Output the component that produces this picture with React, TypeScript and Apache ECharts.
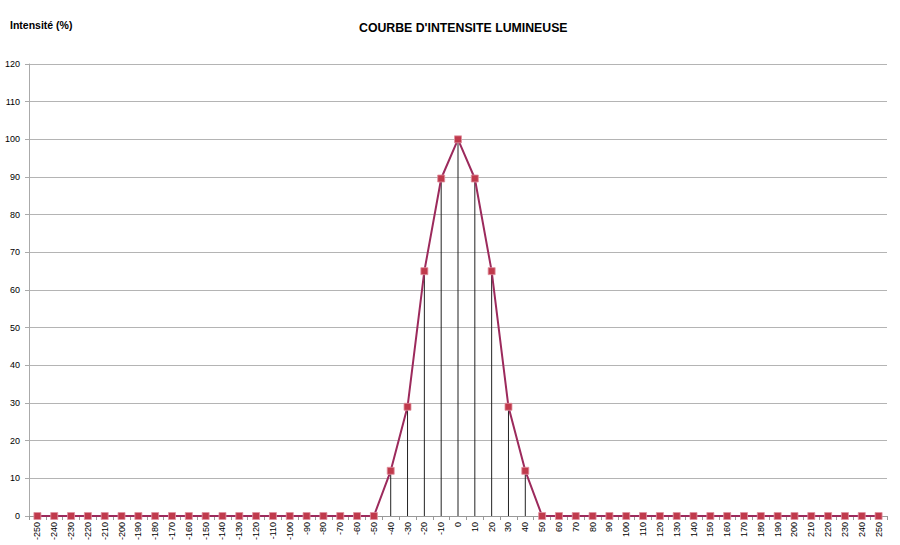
import React, { useEffect, useRef } from "react";
import * as echarts from "echarts";

const angles: string[] = [];
for (let a = -250; a <= 250; a += 10) angles.push(String(a));

const nonZero: Record<string, number> = {
  "-40": 12,
  "-30": 29,
  "-20": 65,
  "-10": 89.6,
  "0": 100,
  "10": 89.6,
  "20": 65,
  "30": 29,
  "40": 12,
};

const intensity: number[] = angles.map((a) => nonZero[a] ?? 0);

const yTicks = [0, 10, 20, 30, 40, 50, 60, 70, 80, 90, 100, 110, 120];

export default function App() {
  const ref = useRef<HTMLDivElement>(null);
  useEffect(() => {
    if (!ref.current) return;
    const chart = echarts.init(ref.current, null, { renderer: "svg" });
    chart.setOption({
      animation: false,
      backgroundColor: "#ffffff",
      title: {
        text: "COURBE D'INTENSITE LUMINEUSE",
        left: 359,
        top: 22,
        padding: 0,
        textStyle: { fontFamily: "Liberation Sans, Arial", fontSize: 12.3, fontWeight: "bold", color: "#000" },
      },
      grid: { left: 29, right: 13, top: 64, bottom: 29 },
      xAxis: {
        type: "category",
        data: angles,
        boundaryGap: true,
        axisLine: { show: true, lineStyle: { color: "#999", width: 1 } },
        axisTick: { show: true, length: 4, lineStyle: { color: "#999" } },
        axisLabel: {
          rotate: 90,
          interval: 0,
          fontSize: 9,
          margin: 6,
          color: "#000",
          fontFamily: "Liberation Sans, Arial",
        },
      },
      yAxis: {
        type: "value",
        min: 0,
        max: 120,
        interval: 10,
        name: "Intensité (%)",
        nameLocation: "end",
        nameGap: 0,
        nameTextStyle: {
          fontFamily: "Liberation Sans, Arial",
          fontSize: 10.5,
          fontWeight: "bold",
          color: "#000",
          align: "left",
          padding: [0, 0, 34, -19],
        },
        axisLine: { show: true, lineStyle: { color: "#aaa", width: 1 } },
        axisTick: { show: true, length: 4, lineStyle: { color: "#aaa" } },
        splitLine: { show: true, lineStyle: { color: "#b4b4b4", width: 1 } },
        axisLabel: {
          fontSize: 9,
          margin: 9,
          color: "#000",
          fontFamily: "Liberation Sans, Arial",
          formatter: (v: number) => (yTicks.includes(v) ? String(v) : ""),
        },
      },
      series: [
        {
          type: "bar",
          data: intensity,
          barWidth: 1,
          itemStyle: { color: "#222" },
          silent: true,
          z: 1,
        },
        {
          type: "line",
          data: intensity,
          symbol: "rect",
          symbolSize: 7,
          lineStyle: { color: "#9c2a5c", width: 2 },
          itemStyle: { color: "#c03a4c", borderColor: "#e090a0", borderWidth: 0.8 },
          z: 3,
        },
      ],
    });
    return () => chart.dispose();
  }, []);
  return <div ref={ref} style={{ width: 900, height: 545, position: "absolute", left: 0, top: 0 }} />;
}
